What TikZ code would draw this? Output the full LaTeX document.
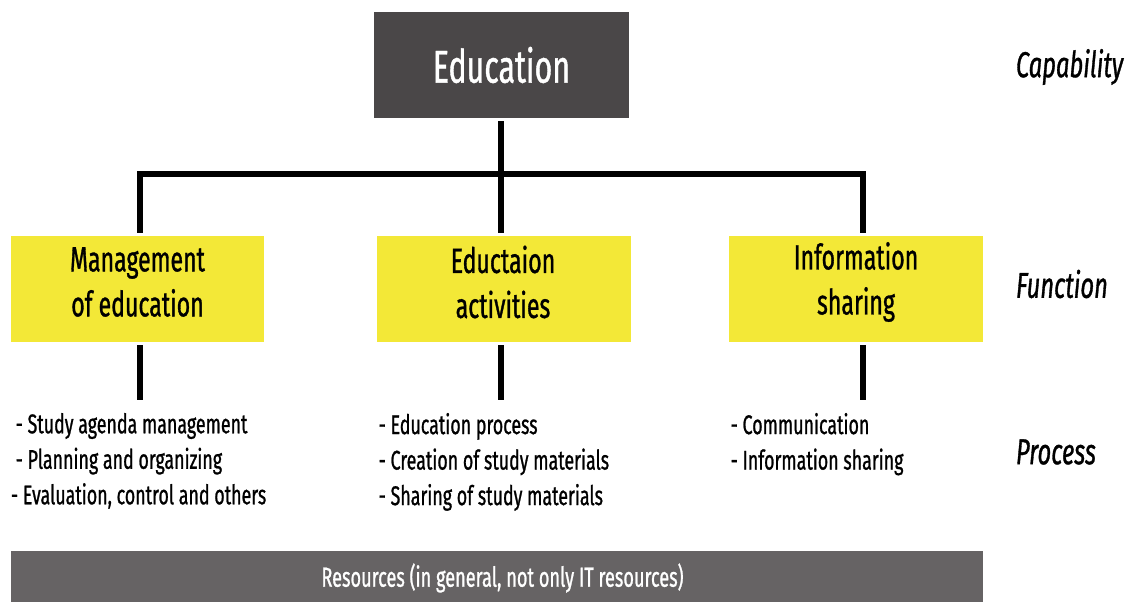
\documentclass[tikz,border=0pt]{standalone}
\usepackage{fontspec}
\setmainfont{Fira Sans}[FakeStretch=0.66,FakeBold=0.9]
\begin{document}
\begin{tikzpicture}[x=1pt,y=-1pt,
  line width=6pt,
  topbox/.style={fill=darkbox,draw=none,text=white,font=\fontsize{46}{50}\selectfont},
  funcbox/.style={fill=yellowbox,draw=none,text=black,align=center,font=\fontsize{35}{45}\selectfont},
  proc/.style={anchor=north west,align=left,inner sep=0pt,font=\fontsize{27}{35.5}\selectfont},
  level/.style={anchor=west,inner sep=0pt,font=\fontsize{36}{40}\selectfont\itshape},
  link/.style={draw=black,line width=6pt}]
\definecolor{darkbox}{HTML}{4A4748}
\definecolor{yellowbox}{HTML}{F3E837}
\definecolor{resbar}{HTML}{666364}
\useasboundingbox (0,0) rectangle (1128,602);

% capability
\node[topbox,minimum width=255pt,minimum height=106pt] (edu) at (501.5,65) {Education};

% functions
\node[funcbox,minimum width=253pt,minimum height=106pt] (f1) at (137.5,289) {};
\node[funcbox,minimum width=254pt,minimum height=106pt] (f2) at (504,289) {};
\node[funcbox,minimum width=254pt,minimum height=106pt] (f3) at (856,289) {};
\node[funcbox,fill=none] (f1t) at (137.5,282) {Management\\of education};
\node[funcbox,fill=none] (f2t) at (503,282) {Eductaion\\activities};
\node[funcbox,fill=none] (f3t) at (856,282) {Information\\sharing};

% tree connectors
\coordinate (j) at (501,174);
\coordinate (l) at (140,174);
\coordinate (r) at (863,174);
\draw[link] (edu.south -| j) -- (j);
\draw[link,line cap=rect] (l) -- (r);
\draw[link] (l) -- (l |- f1.north);
\draw[link] (j) -- (j |- f2.north);
\draw[link] (r) -- (r |- f3.north);

% processes
\coordinate (p1) at (140,400);
\coordinate (p2) at (501,400);
\coordinate (p3) at (863,400);
\draw[link] (f1.south -| p1) -- (p1);
\draw[link] (f2.south -| p2) -- (p2);
\draw[link] (f3.south -| p3) -- (p3);

\node[proc] (t1) at (8,410) {\ - Study agenda management\\\ - Planning and organizing\\- Evaluation, control and others};
\node[proc] (t2) at (371,410) {\ - Education process\\\ - Creation of study materials\\\ - Sharing of study materials};
\node[proc] (t3) at (723,410) {\ - Communication\\\ - Information sharing};

% level labels
\node[level] (lc) at (1013,67) {Capability};
\node[level] (lf) at (1013,284) {Function};
\node[level] (lp) at (1013,452) {Process};

% resources bar
\node[fill=resbar,draw=none,minimum width=972pt,minimum height=52pt,inner sep=0pt] (res) at (497,577) {};
\node[text=white,inner sep=0pt,font=\fontsize{27.5}{30}\selectfont] (rest) at (502.5,578) {Resources (in general, not only IT resources)};
\end{tikzpicture}
\end{document}
